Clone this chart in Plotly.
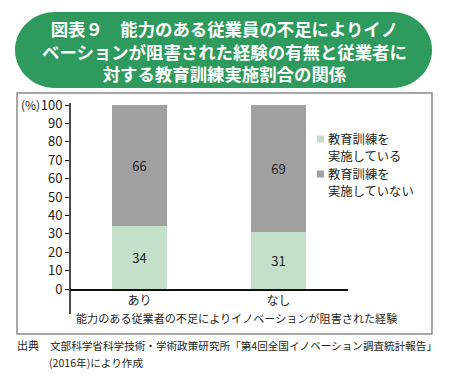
import plotly.graph_objects as go

W, H = 450, 378

categories = ["あり", "なし"]
series_names = [["教育訓練を", "実施している"], ["教育訓練を", "実施していない"]]
trained = [34, 31]
not_trained = [66, 69]
y_ticks = [0, 10, 20, 30, 40, 50, 60, 70, 80, 90, 100]

title_lines = [
    "図表９　能力のある従業員の不足によりイノ",
    "ベーションが阻害された経験の有無と従業者に",
    "対する教育訓練実施割合の関係",
]
x_title = "能力のある従業者の不足によりイノベーションが阻害された経験"
source_line1 = "文部科学省科学技術・学術政策研究所「第4回全国イノベーション調査統計報告」"
source_line2 = "(2016年)により作成"

GREEN_BAR = "#c5e0c8"
GRAY_BAR = "#a0a0a0"
BANNER = "#2e9a5e"
TXT = "#231f20"
FONT = "Noto Sans CJK JP"


def px(x):
    return x / W


def py(y):
    return 1 - y / H


fig = go.Figure()
fig.add_trace(go.Bar(
    x=categories, y=trained, name="<br>".join(series_names[0]), marker_color=GREEN_BAR,
    marker_line_width=0, text=[str(v) for v in trained], textposition="inside",
    insidetextanchor="middle", textangle=0, constraintext="none",
    textfont=dict(size=13, color=TXT, family=FONT), showlegend=False,
))
fig.add_trace(go.Bar(
    x=categories, y=not_trained, name="<br>".join(series_names[1]), marker_color=GRAY_BAR,
    marker_line_width=0, text=[str(v) for v in not_trained], textposition="inside",
    insidetextanchor="middle", textangle=0, constraintext="none",
    textfont=dict(size=13, color=TXT, family=FONT), showlegend=False,
))

# banner path (stadium shape)
x0, x1, t, b = 15, 432, 12, 88
r = 40
mid = (t + b) / 2
hr = (b - t) / 2
k = 0.552


def P(x, y):
    return f"{px(x):.5f},{py(y):.5f}"


path = (
    f"M {P(x0 + r, t)} L {P(x1 - r, t)} "
    f"C {P(x1 - r + k * r, t)} {P(x1, mid - k * hr)} {P(x1, mid)} "
    f"C {P(x1, mid + k * hr)} {P(x1 - r + k * r, b)} {P(x1 - r, b)} "
    f"L {P(x0 + r, b)} "
    f"C {P(x0 + r - k * r, b)} {P(x0, mid + k * hr)} {P(x0, mid)} "
    f"C {P(x0, mid - k * hr)} {P(x0 + r - k * r, t)} {P(x0 + r, t)} Z"
)

shapes = [
    dict(type="path", path=path, xref="paper", yref="paper",
         fillcolor=BANNER, line=dict(width=0), layer="below"),
    dict(type="rect", xref="paper", yref="paper", x0=px(17), x1=px(432),
         y0=py(334), y1=py(93), line=dict(color="#8a8a8a", width=1.5),
         fillcolor="rgba(0,0,0,0)", layer="below"),
    dict(type="line", xref="paper", yref="paper", x0=px(70), x1=px(70),
         y0=py(314), y1=py(103), line=dict(color="#111", width=1.5)),
]

annotations = []


def add_text(text, x, y, size, xanchor="left", color=TXT, bold=False,
             align="left", height=None):
    a = dict(
        text=f"<b>{text}</b>" if bold else text, x=px(x), y=py(y),
        xref="paper", yref="paper", showarrow=False, xanchor=xanchor, align=align,
        yanchor="middle", font=dict(size=size, color=color, family=FONT),
    )
    if height:
        a["height"] = height
        a["valign"] = "middle"
    annotations.append(a)


add_text("<br>".join(title_lines), 224, 50.5, 17.4, xanchor="center",
         color="white", bold=True, align="center")

add_text("(%)", 42, 104, 12, xanchor="right")
add_text(x_title, 237, 318, 11.1, xanchor="center")

# legend (manual)
legend_colors = [GREEN_BAR, GRAY_BAR]
legend_rows = [139, 174]
for name, col, ly in zip(series_names, legend_colors, legend_rows):
    shapes.append(dict(type="rect", xref="paper", yref="paper",
                       x0=px(317), x1=px(324), y0=py(ly + 3.5), y1=py(ly - 3.5),
                       fillcolor=col, line=dict(width=0)))
    add_text(name[0], 326, ly, 12.3, height=16)
    add_text(name[1], 326, ly + 17, 12.3, height=16)

# source
add_text("出典", 15, 345, 11)
add_text(source_line1, 48, 345, 10.6)
add_text(source_line2, 47, 362, 10.6)

fig.update_layout(
    width=W, height=H, margin=dict(l=0, r=0, t=0, b=0, autoexpand=False),
    paper_bgcolor="white", plot_bgcolor="white",
    barmode="stack", bargap=0.6,
    font=dict(family=FONT, color=TXT),
    xaxis=dict(domain=[px(70), px(348)], range=[-0.5, 1.5], showline=True,
               linecolor="#111", linewidth=1.5, ticks="", showgrid=False,
               automargin=False,
               tickfont=dict(size=12, color=TXT, family=FONT), fixedrange=True),
    yaxis=dict(domain=[py(289), py(105)], range=[0, 100], tickvals=y_ticks,
               showline=False, ticks="outside", ticklen=4, tickwidth=1.2,
               tickcolor="#111", showgrid=False, zeroline=False, automargin=False,
               tickfont=dict(size=13, color=TXT, family=FONT), fixedrange=True),
    shapes=shapes, annotations=annotations,
)

fig.write_html(
    "out.html",
    config={"displayModeBar": False},
    post_script="document.body.style.margin='0';document.body.style.overflow='hidden';",
)
